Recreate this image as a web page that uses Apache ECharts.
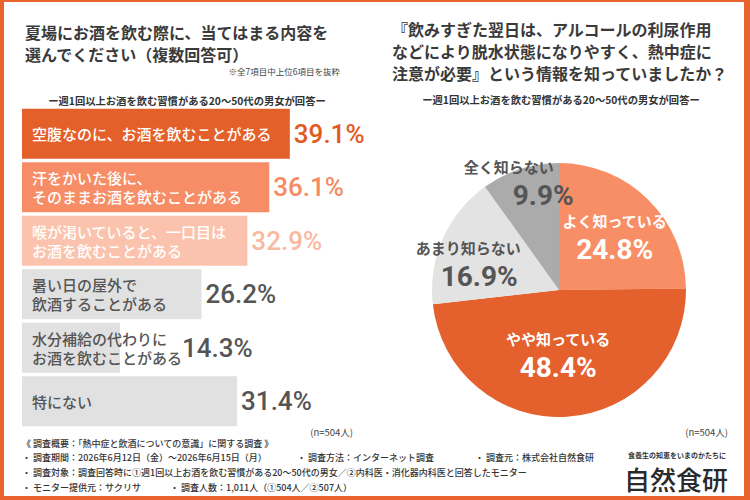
<!DOCTYPE html>
<html>
<head>
<meta charset="utf-8">
<script src="https://cdn.jsdelivr.net/npm/echarts@6/dist/echarts.min.js"></script>
<style>
  html, body { margin: 0; padding: 0; background: #fff; }
  #box { width: 750px; height: 500px; }
</style>
</head>
<body>
<div id="box"></div>
<script>
// 棒グラフ（複数回答）
const barCategories = [
  "空腹なのに、お酒を飲むことがある",
  "汗をかいた後に、\nそのままお酒を飲むことがある",
  "喉が渇いていると、一口目は\nお酒を飲むことがある",
  "暑い日の屋外で\n飲酒することがある",
  "水分補給の代わりに\nお酒を飲むことがある",
  "特にない",
];
const barValues = [39.1, 36.1, 32.9, 26.2, 14.3, 31.4];

// 円グラフ
const pieNames = ["よく知っている", "やや知っている", "あまり知らない", "全く知らない"];
const pieValues = [24.8, 48.4, 16.9, 9.9];

const barColors = ["#E4602B", "#F78D66", "#FBC3AD", "#E1E1E1", "#E1E1E1", "#E1E1E1"];
const barTextColors = ["#fff", "#fff", "#fff", "#555", "#555", "#555"];
const pctColors = ["#E25A22", "#F58A63", "#F8B9A0", "#555", "#555", "#555"];
const pieColors = ["#F88E66", "#E4602C", "#E3E3E3", "#ABABAB"];
const pieTextColors = ["#fff", "#fff", "#555", "#555"];
// ラベル位置の微調整
const pieLabelShift = [[9, -6], [-5, -2], [-30, 0], [-30, -44]];
const piePctPad = [[0, 0, 0, 0], [0, 0, 0, 0], [0, 0, 0, 22], [0, 0, 0, 0]];

const jp = "'Noto Sans CJK JP', 'Noto Sans', sans-serif";
const num = "Roboto, 'Noto Sans', sans-serif";

const chart = echarts.init(document.getElementById("box"), null, { renderer: "svg" });

function txt(x, y, text, size, opts) {
  return {
    type: "text",
    x: x,
    y: y,
    style: Object.assign({
      text: text,
      fontSize: size,
      fontFamily: jp,
      fill: "#333",
      textAlign: "left",
      textVerticalAlign: "middle",
    }, opts || {}),
  };
}

const option = {
  backgroundColor: "#E8632D",
  animation: false,
  graphic: [
    { type: "rect", shape: { x: 4, y: 2, width: 740, height: 494 }, style: { fill: "#fff" }, z: -10 },
    txt(25, 43, "夏場にお酒を飲む際に、当てはまる内容を\n選んでください（複数回答可）", 16,
      { fontWeight: "bold", lineHeight: 22, fill: "#3a3a3a" }),
    txt(340, 71, "※全7項目中上位6項目を抜粋", 8.5, { textAlign: "right", fill: "#444" }),
    txt(187, 100, "ー週1回以上お酒を飲む習慣がある20〜50代の男女が回答ー", 10.3,
      { textAlign: "center", fontWeight: "bold" }),
    txt(392, 51, "『飲みすぎた翌日は、アルコールの利尿作用\nなどにより脱水状態になりやすく、熱中症に\n注意が必要』という情報を知っていましたか？", 16,
      { fontWeight: "bold", lineHeight: 22, fill: "#3a3a3a" }),
    txt(561, 99, "ー週1回以上お酒を飲む習慣がある20〜50代の男女が回答ー", 10.3,
      { textAlign: "center", fontWeight: "bold" }),
    txt(353, 432, "(n=504人)", 9.5, { textAlign: "right", fill: "#444" }),
    txt(728, 432, "(n=504人)", 9.5, { textAlign: "right", fill: "#444" }),
    // 調査概要
    txt(22, 443, "《 調査概要：「熱中症と飲酒についての意識」に関する調査 》", 9, { fontWeight: 500 }),
    txt(22, 457, "・ 調査期間：2026年6月12日（金）～2026年6月15日（月）", 9, { fontWeight: 500 }),
    txt(297, 457, "・ 調査方法：インターネット調査", 9, { fontWeight: 500 }),
    txt(475, 457, "・ 調査元：株式会社自然食研", 9, { fontWeight: 500 }),
    txt(22, 472, "・ 調査対象：調査回答時に①週1回以上お酒を飲む習慣がある20〜50代の男女／②内科医・消化器内科医と回答したモニター", 9, { fontWeight: 500 }),
    txt(22, 487, "・ モニター提供元：サクリサ", 9, { fontWeight: 500 }),
    txt(170, 487, "・ 調査人数：1,011人（①504人／②507人）", 9, { fontWeight: 500 }),
    // ロゴ
    txt(677, 455, "食養生の知恵をいまのかたちに", 7, { textAlign: "center", fontWeight: "bold" }),
    txt(676, 478, "自然食研", 26, { textAlign: "center", fontWeight: 500, fill: "#2a2a2a" }),
  ],
  grid: { left: 22, top: 107, width: 342.5, height: 321 },
  xAxis: { type: "value", min: 0, max: 50, show: false },
  yAxis: {
    type: "category",
    data: barCategories,
    inverse: true,
    show: false,
  },
  series: [
    {
      type: "bar",
      barWidth: 50,
      data: barValues.map((v, i) => ({
        value: v,
        itemStyle: { color: barColors[i] },
        label: { color: barTextColors[i] },
      })),
      label: {
        show: true,
        position: "insideLeft",
        distance: 10,
        formatter: "{b}",
        fontFamily: jp,
        fontSize: 15,
        fontWeight: 500,
        lineHeight: 19,
      },
      z: 2,
    },
    {
      type: "bar",
      barWidth: 50,
      barGap: "-100%",
      silent: true,
      data: barValues.map((v, i) => ({
        value: v,
        label: { color: pctColors[i], offset: i === 4 ? [58, 0] : [0, 0] },
      })),
      itemStyle: { color: "rgba(0,0,0,0)" },
      label: {
        show: true,
        position: "right",
        distance: 4,
        formatter: "{c}%",
        fontFamily: num,
        fontSize: 26,
        fontWeight: 500,
      },
      z: 3,
    },
    {
      type: "pie",
      center: [559, 290],
      radius: 127,
      startAngle: 90,
      clockwise: true,
      data: pieValues.map((v, i) => ({
        name: pieNames[i],
        value: v,
        itemStyle: { color: pieColors[i] },
        label: {
          rich: {
            n: { color: pieTextColors[i], fontSize: 15, fontWeight: "bold", fontFamily: jp, lineHeight: 26 },
            p: {
              color: pieTextColors[i], fontSize: 28, fontWeight: "bold", fontFamily: num, lineHeight: 32,
              align: i === 3 ? "right" : "center",
              padding: piePctPad[i],
            },
          },
        },
      })),
      label: {
        show: true,
        position: "inside",
        overflow: "none",
        width: 130,
        formatter: "{n|{b}}\n{p|{c}%}",
      },
      labelLayout: function (params) {
        const s = pieLabelShift[params.dataIndex];
        return { dx: s[0], dy: s[1] };
      },
      labelLine: { show: false },
      emphasis: { disabled: true },
    },
  ],
};

chart.setOption(option);
</script>
</body>
</html>
